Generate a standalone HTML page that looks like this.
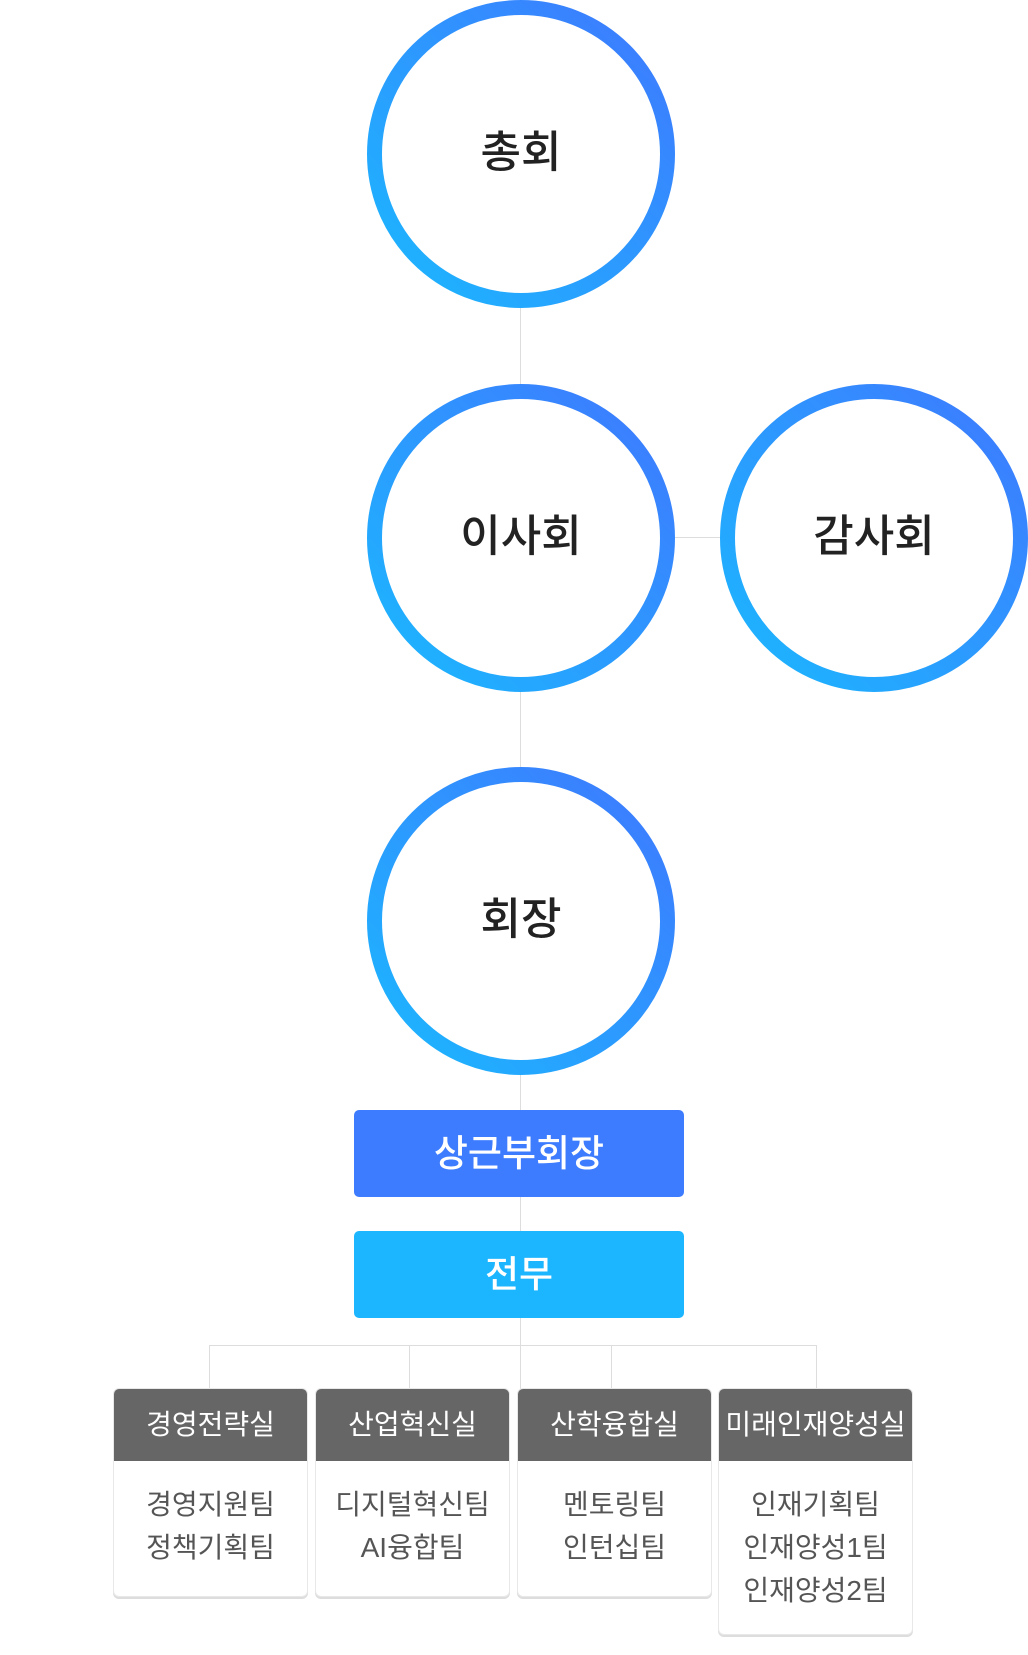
<!DOCTYPE html>
<html><head><meta charset="utf-8"><style>
html,body{margin:0;padding:0;background:#fff;}
body{width:1028px;height:1655px;position:relative;overflow:hidden;font-family:"Liberation Sans","Noto Sans CJK KR",sans-serif;}
.l{position:absolute;background:#ddd;}
.c{position:absolute;width:308px;height:308px;}
.c span{position:absolute;left:0;top:0;width:308px;line-height:306px;text-align:center;font-size:44px;font-weight:500;color:#222;}
.b{position:absolute;left:354px;width:330px;height:87px;border-radius:5px;color:#fff;text-align:center;line-height:88px;font-size:37px;font-weight:500;}
.d{position:absolute;top:1389px;width:193px;border-radius:5px;background:#fff;box-shadow:0 0 0 1px #e8e8e8,0 2px 0 1px #ddd;overflow:hidden;}
.d .h{background:#666;color:#fff;height:72px;line-height:72px;text-align:center;font-size:28px;}
.d .t{color:#555;font-size:28px;text-align:center;line-height:43px;padding-top:22px;}
</style></head><body>
<svg width="0" height="0" style="position:absolute"><defs><linearGradient id="g" x1="0" y1="1" x2="1" y2="0"><stop offset="0" stop-color="#1bb8ff"/><stop offset="1" stop-color="#3f78ff"/></linearGradient></defs></svg>
<div class="l" style="left:520px;top:300px;width:1px;height:1090px"></div>
<div class="l" style="left:670px;top:537px;width:60px;height:1px"></div>
<div class="l" style="left:209px;top:1345px;width:608px;height:1px"></div>
<div class="l" style="left:209px;top:1345px;width:1px;height:44px"></div>
<div class="l" style="left:409px;top:1345px;width:1px;height:44px"></div>
<div class="l" style="left:611px;top:1345px;width:1px;height:44px"></div>
<div class="l" style="left:816px;top:1345px;width:1px;height:44px"></div>

<div class="c" style="left:367px;top:0"><svg width="308" height="308"><circle cx="154" cy="154" r="146.5" fill="#fff" stroke="url(#g)" stroke-width="15"/></svg><span>총회</span></div>
<div class="c" style="left:367px;top:384px"><svg width="308" height="308"><circle cx="154" cy="154" r="146.5" fill="#fff" stroke="url(#g)" stroke-width="15"/></svg><span>이사회</span></div>
<div class="c" style="left:720px;top:384px"><svg width="308" height="308"><circle cx="154" cy="154" r="146.5" fill="#fff" stroke="url(#g)" stroke-width="15"/></svg><span>감사회</span></div>
<div class="c" style="left:367px;top:767px"><svg width="308" height="308"><circle cx="154" cy="154" r="146.5" fill="#fff" stroke="url(#g)" stroke-width="15"/></svg><span>회장</span></div>

<div class="b" style="top:1110px;background:#3d7bff">상근부회장</div>
<div class="b" style="top:1231px;background:#1cb5ff">전무</div>

<div class="d" style="left:114px;height:207px"><div class="h">경영전략실</div><div class="t">경영지원팀<br>정책기획팀</div></div>
<div class="d" style="left:316px;height:207px"><div class="h">산업혁신실</div><div class="t">디지털혁신팀<br>AI융합팀</div></div>
<div class="d" style="left:518px;height:207px"><div class="h">산학융합실</div><div class="t">멘토링팀<br>인턴십팀</div></div>
<div class="d" style="left:719px;height:245px"><div class="h">미래인재양성실</div><div class="t">인재기획팀<br>인재양성1팀<br>인재양성2팀</div></div>
</body></html>
